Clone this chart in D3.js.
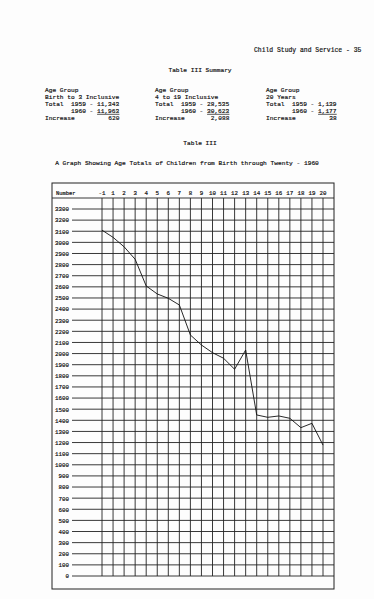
<!DOCTYPE html>
<html>
<head>
<meta charset="utf-8">
<script src="https://cdn.jsdelivr.net/npm/d3@7"></script>
<style>
  body { margin: 0; background: #fff; }
  svg text { font-family: "Liberation Mono", "DejaVu Sans Mono", monospace; fill: #111; stroke: #111; stroke-width: 0.18; white-space: pre; }
</style>
</head>
<body>
<div id="page"></div>
<script>
var width = 374;
var height = 599;

// data (1960 totals by age)
var ages = ["-1","1","2","3","4","5","6","7","8","9","10","11","12","13","14","15","16","17","18","19","20"];
var totals1960 = [3110, 3045, 2960, 2848, 2608, 2536, 2497, 2437, 2167, 2077, 2008, 1958, 1859, 2032, 1448, 1427, 1439, 1418, 1334, 1373, 1177];
var yTicks = d3.range(0, 3301, 100);

// summary table
var groupNames = ["Birth to 3 Inclusive", "4 to 19 Inclusive", "20 Years"];
var total1959 = ["11,343", "28,535", "1,139"];
var total1960 = ["11,963", "30,623", "1,177"];
var increase = ["620", "2,088", "38"];

var svg = d3.select("#page")
  .append("svg")
  .attr("width", width)
  .attr("height", height);

svg.append("rect").attr("width", width).attr("height", height).attr("fill", "#fdfdfd");

var fs = 6.2;

svg.append("text").attr("x", 254).attr("y", 52).attr("font-size", 6.4)
  .text("Child Study and Service - 35");

svg.append("text").attr("x", 200).attr("y", 72).attr("font-size", fs)
  .attr("text-anchor", "middle").text("Table III Summary");

// three summary columns
var colX = [45, 155, 266];
groupNames.forEach(function(g, i) {
  var x = colX[i];
  var col = svg.append("g").attr("font-size", fs);
  col.append("text").attr("x", x).attr("y", 92).text("Age Group");
  col.append("text").attr("x", x).attr("y", 99).text(g);
  col.append("text").attr("x", x).attr("y", 106).text("Total  1959 - " + total1959[i]);
  col.append("text").attr("x", x).attr("y", 113).text("       1960 - " + total1960[i]);
  var endX = x + ("Total  1959 - " + total1959[i]).length * fs * 0.6;
  var uw = total1960[i].length * fs * 0.6;
  col.append("line").attr("x1", endX - uw).attr("x2", endX)
    .attr("y1", 114.3).attr("y2", 114.3).attr("stroke", "#111").attr("stroke-width", 0.7);
  col.append("text").attr("x", x).attr("y", 120).text("Increase");
  col.append("text").attr("x", endX).attr("y", 120).attr("text-anchor", "end").text(increase[i]);
});

svg.append("text").attr("x", 200).attr("y", 145).attr("font-size", fs)
  .attr("text-anchor", "middle").text("Table III");
svg.append("text").attr("x", 187).attr("y", 165).attr("font-size", fs)
  .attr("text-anchor", "middle").text("A Graph Showing Age Totals of Children from Birth through Twenty - 1960");

// chart frame
var box = {left: 52, top: 183, right: 334, bottom: 589};
var headerY = 198;

var xScale = d3.scalePoint().domain(ages).range([102, 323]);
var yScale = d3.scaleLinear().domain([0, 3300]).range([576, 209]);

var ink = "#222";

svg.append("rect")
  .attr("x", box.left).attr("y", box.top)
  .attr("width", box.right - box.left).attr("height", box.bottom - box.top)
  .attr("fill", "none").attr("stroke", ink).attr("stroke-width", 1);

svg.append("line").attr("x1", box.left).attr("x2", box.right)
  .attr("y1", headerY).attr("y2", headerY).attr("stroke", ink).attr("stroke-width", 0.9);

svg.append("text").attr("x", 56).attr("y", 195).attr("font-size", 5.4).text("Number");

// horizontal rules with labels
var yAxis = d3.axisLeft(yScale).tickValues(yTicks).tickFormat(d3.format("d")).tickSize(0).tickPadding(2);
var yg = svg.append("g").attr("transform", "translate(71,0)").call(yAxis);
yg.select(".domain").remove();
yg.selectAll("text").attr("font-size", 5.8)
  .style("font-family", "'Liberation Mono', monospace").attr("fill", "#111");

svg.append("g").selectAll("line")
  .data(yTicks)
  .enter()
  .append("line")
  .attr("x1", 72).attr("x2", box.right)
  .attr("y1", function(d) { return yScale(d); })
  .attr("y2", function(d) { return yScale(d); })
  .attr("stroke", ink).attr("stroke-width", 0.9);

// vertical rules with age labels
svg.append("g").selectAll("line")
  .data(ages)
  .enter()
  .append("line")
  .attr("x1", function(d) { return xScale(d); })
  .attr("x2", function(d) { return xScale(d); })
  .attr("y1", headerY).attr("y2", yScale(0))
  .attr("stroke", ink).attr("stroke-width", 0.9);

svg.append("g").selectAll("text")
  .data(ages)
  .enter()
  .append("text")
  .attr("x", function(d) { return xScale(d); })
  .attr("y", 195)
  .attr("font-size", 5.8)
  .attr("text-anchor", "middle")
  .text(function(d) { return d; });

// the data line
var line = d3.line()
  .x(function(d, i) { return xScale(ages[i]); })
  .y(function(d) { return yScale(d); });

svg.append("path")
  .datum(totals1960)
  .attr("d", line)
  .attr("fill", "none")
  .attr("stroke", "#111")
  .attr("stroke-width", 0.9);
</script>
</body>
</html>
